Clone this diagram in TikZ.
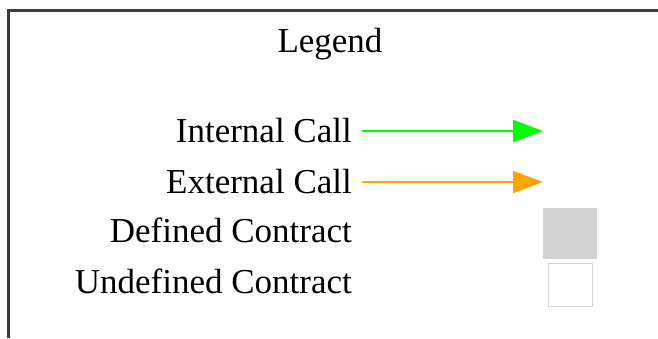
\documentclass[tikz,border=0pt]{standalone}
\usepackage{fontspec}
\setmainfont{Liberation Serif}
\usepackage{xcolor}
\usetikzlibrary{arrows.meta}
\definecolor{framegray}{HTML}{3C3C3C}
\definecolor{callgreen}{HTML}{00FF00}
\definecolor{callorange}{HTML}{FFA500}
\definecolor{boxgray}{HTML}{D3D3D3}

\begin{document}
\begin{tikzpicture}[x=1pt, y=-1pt, font=\fontsize{35}{42}\selectfont]
    \useasboundingbox (0,0) rectangle (658,338);
    \draw[framegray, line width=3pt] (8,338) -- (8,10.5) -- (658,10.5);

    \node (legend) [anchor=base] at (330,52) {Legend};
    \node (internal) [anchor=base east, inner xsep=10pt, inner ysep=0pt] at (362,142) {Internal Call};
    \node (external) [anchor=base east, inner xsep=10pt, inner ysep=0pt] at (362,193) {External Call};
    \node (defined) [anchor=base east, inner xsep=10pt, inner ysep=0pt] at (362,242) {Defined Contract};
    \node (undefined) [anchor=base east, inner xsep=10pt, inner ysep=0pt] at (362,293) {Undefined Contract};

    \node (definedbox) [fill=boxgray, draw=boxgray, line width=1pt, minimum width=53pt, minimum height=50pt, inner sep=0pt] at (570,233.5) {};
    \node (undefinedbox) [fill=white, draw=boxgray, line width=1.5pt, minimum width=44pt, minimum height=43pt, inner sep=0pt] at (570.5,285) {};

    \coordinate (internalstart) at (362,131);
    \coordinate (internalend) at (543,131);
    \coordinate (externalstart) at (362,182);
    \coordinate (externalend) at (543,182);

    \draw[-{Triangle[length=30pt,width=22pt]}, callgreen, line width=2pt] (internalstart) -- (internalend);
    \draw[-{Triangle[length=30pt,width=22pt]}, callorange, line width=2pt] (externalstart) -- (externalend);
\end{tikzpicture}
\end{document}
